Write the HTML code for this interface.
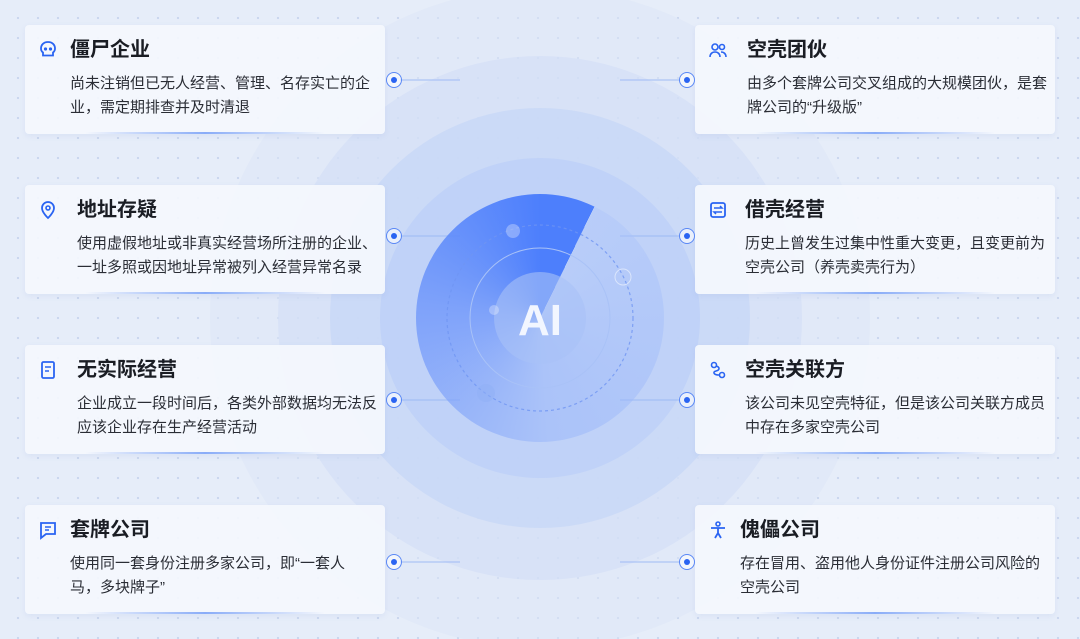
<!DOCTYPE html>
<html><head><meta charset="utf-8"><style>
*{margin:0;padding:0;box-sizing:border-box}
body{width:1080px;height:639px;overflow:hidden;position:relative;font-family:"Liberation Sans","Noto Sans CJK SC",sans-serif;
background:#e6edf9;background-image:radial-gradient(circle,#c9d6ee 1px,transparent 1.3px);background-size:20px 20px;background-position:8px 8px}
.bg{position:absolute;left:0;top:0}
.card{position:absolute;width:360px;height:109px;background:rgba(244,247,253,0.93);border-radius:4px;box-shadow:0 2px 6px rgba(120,150,210,0.12)}
.card:after{content:"";position:absolute;left:60px;right:60px;bottom:0;height:2px;background:linear-gradient(90deg,transparent,#5c8cf5,transparent);opacity:.7}
.t{position:absolute;left:45px;top:12px;font-size:20px;font-weight:bold;color:#1a1d24;line-height:26px}
.d{position:absolute;left:45px;top:47px;width:304px;font-size:15px;color:#2a2d35;line-height:24px}
.ic{position:absolute;left:13px;top:15px;width:20px;height:20px}
.dot{position:absolute;width:16px;height:16px;border-radius:50%;border:1.5px solid #5a88f5;background:rgba(255,255,255,.6)}
.dot:after{content:"";position:absolute;left:3.5px;top:3.5px;width:6px;height:6px;border-radius:50%;background:#2a64f2}
</style></head><body>
<svg class="bg" width="1080" height="639">
<circle cx="540" cy="318" r="330" fill="#dce6f8" opacity=".5"/>
<circle cx="540" cy="318" r="262" fill="#d2def7" opacity=".6"/>
<circle cx="540" cy="318" r="210" fill="#c6d7f7" opacity=".7"/>
<circle cx="540" cy="318" r="160" fill="#bacff8" opacity=".7"/>
<g stroke="#9ab8f5" stroke-width="1.5" opacity=".6">
<line x1="400" y1="80" x2="460" y2="80"/><line x1="400" y1="236" x2="460" y2="236"/><line x1="400" y1="400" x2="460" y2="400"/><line x1="400" y1="562" x2="460" y2="562"/>
<line x1="620" y1="80" x2="680" y2="80"/><line x1="620" y1="236" x2="680" y2="236"/><line x1="620" y1="400" x2="680" y2="400"/><line x1="620" y1="562" x2="680" y2="562"/>
</g>
</svg>
<div style="position:absolute;left:416px;top:194px;width:248px;height:248px;border-radius:50%;background:conic-gradient(from 26deg,rgba(170,195,250,.35) 0deg,rgba(150,180,250,.5) 150deg,rgba(110,150,250,.8) 250deg,#4d7ffc 334deg)"></div>
<svg class="bg" width="1080" height="639">
<circle cx="540" cy="318" r="93" fill="none" stroke="#6f95f3" stroke-width="1.2" stroke-dasharray="3 3" opacity=".8"/>
<circle cx="540" cy="318" r="70" fill="none" stroke="#a9c2f7" stroke-width="1"/>
<circle cx="540" cy="318" r="46" fill="#a9c1f7" opacity=".6"/>
<circle cx="513" cy="231" r="7" fill="#fff" opacity=".3"/>
<circle cx="623" cy="277" r="8" fill="none" stroke="#fff" opacity=".5"/>
<circle cx="494" cy="310" r="5" fill="#fff" opacity=".3"/>
<circle cx="486" cy="393" r="9" fill="#8fb0f5" opacity=".5"/>
<text x="540" y="335" text-anchor="middle" font-family="Liberation Sans" font-weight="bold" font-size="44" fill="#f2f6ff">AI</text>
</svg>

<div class="card" style="left:25px;top:25px"><svg class="ic" viewBox="0 0 20 20"><path d="M10 2C5.5 2 3 5 3 8.5c0 2 1 3.3 2 4v3h10v-3c1-.7 2-2 2-4C17 5 14.5 2 10 2z" fill="none" stroke="#2a64f2" stroke-width="1.8"/><circle cx="7.5" cy="9" r="1.6" fill="#2a64f2"/><circle cx="12.5" cy="9" r="1.6" fill="#2a64f2"/></svg><div class="t">僵尸企业</div><div class="d">尚未注销但已无人经营、管理、名存实亡的企业，需定期排查并及时清退</div></div>
<div class="card" style="left:25px;top:185px"><svg class="ic" viewBox="0 0 20 20"><path d="M10 18s-6-5.5-6-10a6 6 0 0 1 12 0c0 4.5-6 10-6 10z" fill="none" stroke="#2a64f2" stroke-width="1.8"/><circle cx="10" cy="8" r="2" fill="none" stroke="#2a64f2" stroke-width="1.6"/></svg><div class="t" style="left:52px">地址存疑</div><div class="d" style="left:52px">使用虚假地址或非真实经营场所注册的企业、一址多照或因地址异常被列入经营异常名录</div></div>
<div class="card" style="left:25px;top:345px"><svg class="ic" viewBox="0 0 20 20"><rect x="4" y="2" width="12" height="16" rx="1.5" fill="none" stroke="#2a64f2" stroke-width="1.8"/><path d="M7 7h6M7 11h4" stroke="#2a64f2" stroke-width="1.6"/></svg><div class="t" style="left:52px">无实际经营</div><div class="d" style="left:52px">企业成立一段时间后，各类外部数据均无法反应该企业存在生产经营活动</div></div>
<div class="card" style="left:25px;top:505px"><svg class="ic" viewBox="0 0 20 20"><path d="M3 3h14v11H8l-5 4z" fill="none" stroke="#2a64f2" stroke-width="1.8"/><path d="M7 7h6M7 10h4" stroke="#2a64f2" stroke-width="1.6"/></svg><div class="t">套牌公司</div><div class="d" style="width:290px">使用同一套身份注册多家公司，即“一套人马，多块牌子”</div></div>

<div class="card" style="left:695px;top:25px"><svg class="ic" viewBox="0 0 20 20"><circle cx="7" cy="7" r="3" fill="none" stroke="#2a64f2" stroke-width="1.6"/><circle cx="14" cy="7" r="2.5" fill="none" stroke="#2a64f2" stroke-width="1.6"/><path d="M2 17c0-3 2-5 5-5s5 2 5 5M13 12c3 0 5 2 5 5" fill="none" stroke="#2a64f2" stroke-width="1.6"/></svg><div class="t" style="left:52px">空壳团伙</div><div class="d" style="left:52px">由多个套牌公司交叉组成的大规模团伙，是套牌公司的“升级版”</div></div>
<div class="card" style="left:695px;top:185px"><svg class="ic" viewBox="0 0 20 20"><rect x="3" y="3" width="14" height="14" rx="2" fill="none" stroke="#2a64f2" stroke-width="1.8"/><path d="M6 8h8l-2-2M14 12H6l2 2" fill="none" stroke="#2a64f2" stroke-width="1.5"/></svg><div class="t" style="left:50px">借壳经营</div><div class="d" style="left:50px">历史上曾发生过集中性重大变更，且变更前为空壳公司（养壳卖壳行为）</div></div>
<div class="card" style="left:695px;top:345px"><svg class="ic" viewBox="0 0 20 20"><circle cx="6" cy="5" r="2.5" fill="none" stroke="#2a64f2" stroke-width="1.6"/><circle cx="14" cy="15" r="2.5" fill="none" stroke="#2a64f2" stroke-width="1.6"/><path d="M8 6c4 1 4 4 0 5s-2 4 3 4" fill="none" stroke="#2a64f2" stroke-width="1.6"/></svg><div class="t" style="left:50px">空壳关联方</div><div class="d" style="left:50px">该公司未见空壳特征，但是该公司关联方成员中存在多家空壳公司</div></div>
<div class="card" style="left:695px;top:505px"><svg class="ic" viewBox="0 0 20 20"><circle cx="10" cy="4" r="2" fill="none" stroke="#2a64f2" stroke-width="1.6"/><path d="M3 8h14M10 8v5l-3 5M10 13l3 5" fill="none" stroke="#2a64f2" stroke-width="1.8"/></svg><div class="t">傀儡公司</div><div class="d">存在冒用、盗用他人身份证件注册公司风险的空壳公司</div></div>

<div class="dot" style="left:386px;top:72px"></div><div class="dot" style="left:386px;top:228px"></div><div class="dot" style="left:386px;top:392px"></div><div class="dot" style="left:386px;top:554px"></div>
<div class="dot" style="left:679px;top:72px"></div><div class="dot" style="left:679px;top:228px"></div><div class="dot" style="left:679px;top:392px"></div><div class="dot" style="left:679px;top:554px"></div>
</body></html>
